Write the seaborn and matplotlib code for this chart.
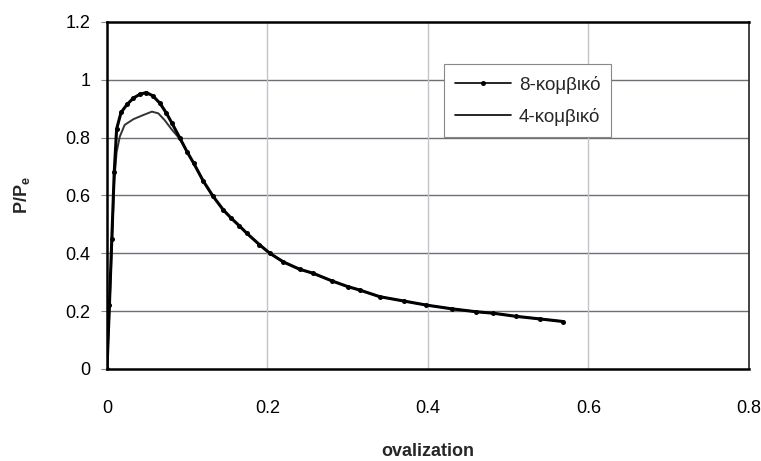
import numpy as np
import pandas as pd
import matplotlib
matplotlib.use("Agg")
import matplotlib.pyplot as plt
import seaborn as sns

# Data
x8 = [0, 0.003, 0.006, 0.009, 0.012, 0.0175, 0.025, 0.033, 0.041, 0.049, 0.057,
      0.066, 0.074, 0.081, 0.091, 0.100, 0.108, 0.120, 0.132, 0.145, 0.155, 0.165,
      0.174, 0.190, 0.203, 0.220, 0.240, 0.257, 0.280, 0.300, 0.315, 0.340, 0.370,
      0.398, 0.430, 0.460, 0.481, 0.510, 0.540, 0.569]
y8 = [0, 0.22, 0.45, 0.68, 0.83, 0.887, 0.915, 0.937, 0.950, 0.956, 0.945,
      0.919, 0.885, 0.850, 0.798, 0.750, 0.712, 0.650, 0.598, 0.550, 0.521, 0.495,
      0.470, 0.430, 0.400, 0.370, 0.345, 0.331, 0.305, 0.285, 0.273, 0.250, 0.235,
      0.221, 0.208, 0.198, 0.193, 0.182, 0.173, 0.164]

x4 = [0, 0.003, 0.006, 0.009, 0.012, 0.016, 0.022, 0.033, 0.045, 0.056, 0.064,
      0.072, 0.081, 0.091, 0.100, 0.108, 0.120, 0.132, 0.145, 0.155, 0.165,
      0.174, 0.190, 0.203, 0.220, 0.240, 0.257, 0.280, 0.300, 0.315, 0.340, 0.370,
      0.398, 0.430, 0.460, 0.481, 0.510, 0.540, 0.569]
y4 = [0, 0.20, 0.42, 0.65, 0.75, 0.804, 0.844, 0.864, 0.878, 0.890, 0.884,
      0.860, 0.827, 0.795, 0.750, 0.712, 0.650, 0.598, 0.550, 0.521, 0.495,
      0.470, 0.430, 0.400, 0.370, 0.345, 0.331, 0.305, 0.285, 0.273, 0.250, 0.235,
      0.221, 0.208, 0.198, 0.193, 0.182, 0.173, 0.164]

label8 = "8-κομβικό"
label4 = "4-κομβικό"
xticks = [0, 0.2, 0.4, 0.6, 0.8]
yticks = [0, 0.2, 0.4, 0.6, 0.8, 1.0, 1.2]
xtick_labels = ["0", "0.2", "0.4", "0.6", "0.8"]
ytick_labels = ["0", "0.2", "0.4", "0.6", "0.8", "1", "1.2"]

df8 = pd.DataFrame({"ovalization": x8, "P": y8})
df4 = pd.DataFrame({"ovalization": x4, "P": y4})

sns.set_theme(style="white")
plt.rcParams["font.family"] = ["Liberation Sans", "DejaVu Sans"]

fig = plt.figure(figsize=(7.61, 4.61), dpi=100)
ax = fig.add_axes([0.1406, 0.1996, 0.8434, 0.7527])

# grid
for yv in yticks[1:-1]:
    ax.axhline(yv, color="#6e6e78", lw=1.0, zorder=0)
for xv in xticks[1:-1]:
    ax.axvline(xv, color="#c4c4c8", lw=1.0, zorder=0)

sns.lineplot(data=df4, x="ovalization", y="P", sort=False, estimator=None,
             color="#333333", lw=1.4, ax=ax, label=label4, zorder=3)
sns.lineplot(data=df8, x="ovalization", y="P", sort=False, estimator=None,
             color="black", lw=2.2, marker="o", markersize=3.6,
             markeredgewidth=0, ax=ax, label=label8, zorder=4)

ax.set_xlim(0, 0.8)
ax.set_ylim(0, 1.2)
ax.set_xticks(xticks)
ax.set_xticklabels(xtick_labels)
ax.set_yticks(yticks)
ax.set_yticklabels(ytick_labels)
ax.tick_params(axis="both", labelsize=13, colors="black")
ax.tick_params(axis="y", left=True, length=4, width=0.8, color="#888888", pad=8)
ax.tick_params(axis="x", bottom=False, pad=16)

for side in ["left", "bottom", "top"]:
    ax.spines[side].set_color("black")
    ax.spines[side].set_linewidth(1.8)
ax.spines["right"].set_color("#222222")
ax.spines["right"].set_linewidth(1.2)

ax.set_xlabel("ovalization", fontsize=13, fontweight="bold", labelpad=19)
ax.set_ylabel(r"P/P$_{\mathregular{e}}$", fontsize=13, fontweight="bold", labelpad=24)

handles, labels = ax.get_legend_handles_labels()
order = [labels.index(label8), labels.index(label4)]
leg = ax.legend([handles[i] for i in order], [labels[i] for i in order],
                loc="upper left", bbox_to_anchor=(0.51, 0.905),
                fontsize=13.5, frameon=True, fancybox=False,
                edgecolor="#888888", framealpha=1, handlelength=3.0,
                borderpad=0.6, labelspacing=0.75, handletextpad=0.4)
leg.get_frame().set_linewidth(0.8)
for h in leg.get_lines():
    h.set_linewidth(1.2)
    h.set_color("black")

fig.savefig("out.png", dpi=100)
